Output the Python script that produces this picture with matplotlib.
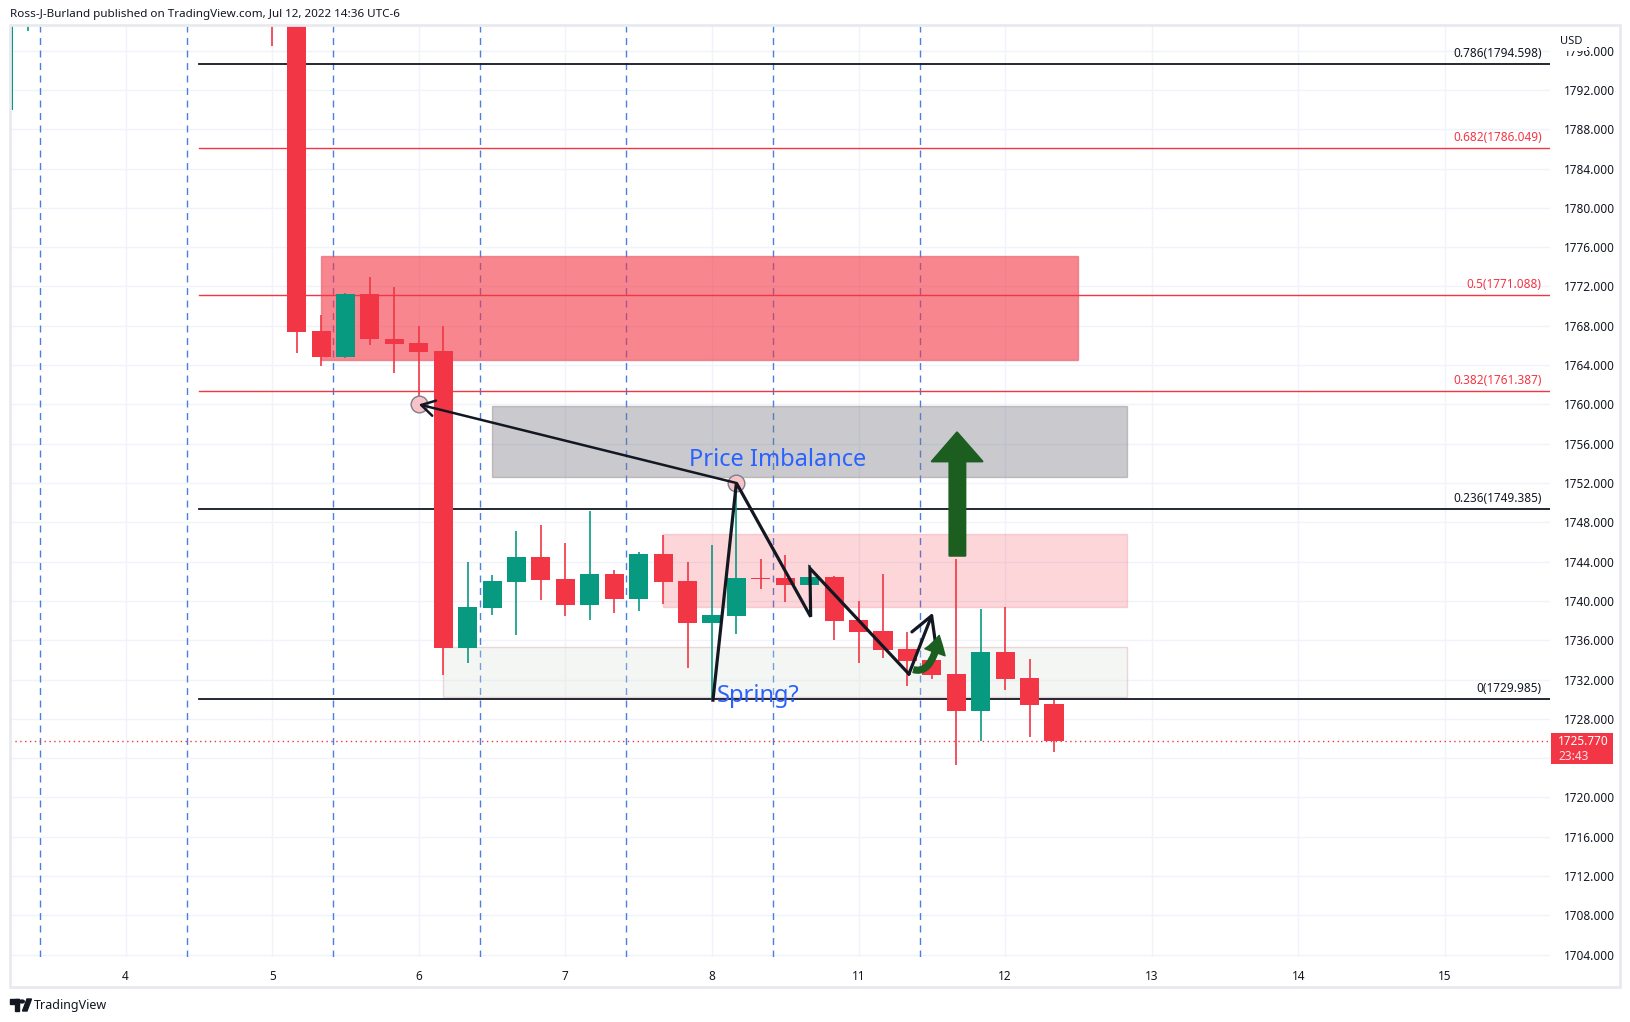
import matplotlib.pyplot as plt
import numpy as np
from matplotlib.patches import Rectangle, Polygon, FancyArrowPatch, Circle

plt.rcParams['font.family'] = ['Noto Sans', 'DejaVu Sans']

# 4h candles, x = bar number (day label "4" sits on bar 0, 6 bars per day)
bars = [-5, -4, 6, 7, 8, 9, 10, 11, 12, 13, 14, 15, 16, 17, 18, 19, 20, 21, 22,
        23, 24, 25, 26, 27, 28, 29, 30, 31, 32, 33, 34, 35, 36, 37, 38]
opens = [1790.0, 1800.0, 1806.0, 1803.5, 1767.5, 1764.85, 1771.24, 1766.66, 1766.2,
         1765.44, 1735.18, 1739.3, 1741.96, 1744.47, 1742.23, 1739.6, 1742.74, 1740.2,
         1744.77, 1742.03, 1737.8, 1738.5, 1742.3, 1742.33, 1741.66, 1742.43, 1738.06,
         1736.94, 1735.1, 1733.99, 1732.56, 1728.83, 1734.77, 1732.19, 1729.5]
highs = [1803.0, 1805.0, 1808.0, 1804.0, 1769.1, 1771.3, 1773.0, 1771.9, 1767.98,
         1767.98, 1744.0, 1742.6, 1747.1, 1747.73, 1745.93, 1749.15, 1743.1, 1745.0,
         1746.7, 1743.96, 1745.7, 1752.0, 1744.3, 1744.67, 1743.65, 1742.5, 1739.99,
         1742.74, 1736.87, 1735.68, 1744.3, 1739.17, 1739.41, 1734.1, 1729.96]
lows = [1790.0, 1798.0, 1796.5, 1765.2, 1763.9, 1764.7, 1766.05, 1763.2, 1760.0,
        1732.46, 1733.66, 1738.56, 1736.53, 1740.1, 1738.5, 1738.1, 1738.8, 1739.0,
        1739.68, 1733.2, 1729.9, 1736.6, 1741.24, 1739.9, 1741.6, 1736.03, 1733.7,
        1734.22, 1731.37, 1732.05, 1723.35, 1725.7, 1730.93, 1726.2, 1724.66]
closes = [1801.0, 1803.0, 1803.5, 1767.4, 1764.85, 1771.24, 1766.63, 1766.18, 1765.37,
          1735.18, 1739.41, 1742.03, 1744.47, 1742.17, 1739.6, 1742.74, 1740.2, 1744.77,
          1741.96, 1737.8, 1738.56, 1742.33, 1742.2, 1741.66, 1742.4, 1738.0, 1736.87,
          1735.0, 1733.88, 1732.46, 1728.83, 1734.77, 1732.05, 1729.4, 1725.77]

day_ticks = [0, 6, 12, 18, 24, 30, 36, 42, 48, 54]
day_labels = ['4', '5', '6', '7', '8', '11', '12', '13', '14', '15']
session_lines = [-3.5, 2.5, 8.5, 14.5, 20.5, 26.5, 32.5]
price_ticks = list(range(1704, 1797, 4))

fib_levels = [0.786, 0.682, 0.5, 0.382, 0.236, 0.0]
fib_prices = [1794.598, 1786.049, 1771.088, 1761.387, 1749.385, 1729.985]
fib_colors = ['#131722', '#F23645', '#F23645', '#F23645', '#131722', '#131722']
fib_start = 3

last_price = 1725.770
countdown = '23:43'

# zones: (x0, x1, y0, y1)
supply_zone = (8, 39, 1764.55, 1775.1)
imbalance_zone = (15, 41, 1752.6, 1759.8)
upper_zone = (22, 41, 1739.37, 1746.78)
lower_zone = (13, 41, 1730.27, 1735.35)

zigzag_x = [24.04, 25.0, 28.04, 28.01, 32.06]
zigzag_y = [1729.9, 1752.0, 1738.39, 1743.32, 1732.56]
zigzag_tip = (33.04, 1738.8)
pointer_from = (25.0, 1752.0)
pointer_to = (12.0, 1760.0)

TV_RED = '#F23645'
TV_GREEN = '#089981'
INK = '#131722'
DARK_GREEN = '#1B5E20'

W, H = 1630, 1022
fig = plt.figure(figsize=(W / 100, H / 100), dpi=100)
ax = fig.add_axes([10 / W, 1 - 957 / H, 1540 / W, 931 / H])
ax.set_xlim(-4.73, 58.3)
ax.set_ylim(1703.76, 1798.51)

for s in ax.spines.values():
    s.set_visible(False)
ax.set_xticks(day_ticks)
ax.set_xticklabels(day_labels)
ax.set_yticks(price_ticks)
# the 1724 label sits under the last-price box
ax.set_yticklabels(['' if v == 1724 else f'{v:.3f}' for v in price_ticks])
ax.yaxis.tick_right()
ax.tick_params(axis='both', length=0, labelsize=8.5, labelcolor=INK)
ax.tick_params(axis='y', pad=10)
ax.tick_params(axis='x', pad=9)
ax.grid(True, color='#F0F3FA', lw=1, zorder=0)
ax.set_axisbelow(True)

for xv in session_lines:
    ax.axvline(xv, color='#4A7FE0', lw=1, ls=(0, (5, 4)), zorder=1)


def zone(z, fc, ec):
    ax.add_patch(Rectangle((z[0], z[2]), z[1] - z[0], z[3] - z[2],
                           facecolor=fc, edgecolor=ec, lw=1, zorder=2))


zone(supply_zone, (0.949, 0.212, 0.271, 0.6), (0.9, 0.35, 0.4, 0.6))
zone(imbalance_zone, (0.47, 0.48, 0.525, 0.4), (0.6, 0.55, 0.57, 0.5))
zone(upper_zone, (0.949, 0.212, 0.271, 0.2), (0.9, 0.5, 0.55, 0.3))
zone(lower_zone, (0.86, 0.89, 0.86, 0.3), (0.85, 0.7, 0.72, 0.5))

# fib levels
for lvl, p, c in zip(fib_levels, fib_prices, fib_colors):
    ax.plot([fib_start, 58.3], [p, p], color=c, lw=1.3 if c == INK else 1, zorder=3)
    ax.annotate(f'{lvl:g}({p:.3f})', xy=(0.9946, p), xycoords=('axes fraction', 'data'),
                xytext=(0, 3), textcoords='offset points', ha='right', va='bottom',
                fontsize=8.5, color=c, zorder=6)

ax.axhline(last_price, color=TV_RED, lw=1, ls=(0, (1, 2.5)), zorder=3)

# candles
for x, o, h, l, c in zip(bars, opens, highs, lows, closes):
    col = TV_GREEN if c >= o else TV_RED
    ax.vlines(x, l, h, color=col, lw=1.2, zorder=4)
    ax.bar(x, max(abs(c - o), 0.12), bottom=min(o, c), width=0.78, color=col, zorder=4)

# drawings
ax.plot([pointer_from[0], pointer_to[0]], [pointer_from[1], pointer_to[1]], ls='none',
        marker='o', ms=12, mfc='#F8C3C8', mec='#7B7F8A', mew=1, zorder=5)
ax.add_patch(FancyArrowPatch(pointer_from, pointer_to, arrowstyle='->,head_length=0.6,head_width=0.35',
                             mutation_scale=16, color=INK, lw=1.8, zorder=6, shrinkA=0, shrinkB=0))
ax.plot(zigzag_x, zigzag_y, color=INK, lw=2.3, zorder=6, solid_joinstyle='miter')
ax.add_patch(FancyArrowPatch((zigzag_x[-1], zigzag_y[-1]), zigzag_tip,
                             arrowstyle='->,head_length=0.8,head_width=0.45', mutation_scale=20,
                             color=INK, lw=2.3, zorder=6, shrinkA=0, shrinkB=0))

big_arrow = [(34.37, 1744.6), (34.37, 1754.2), (35.07, 1754.2), (34.03, 1757.15),
             (33.0, 1754.2), (33.72, 1754.2), (33.72, 1744.6)]
ax.add_patch(Polygon(big_arrow, closed=True, facecolor=DARK_GREEN, edgecolor=DARK_GREEN,
                     lw=1.5, joinstyle='round', zorder=6))
ax.add_patch(FancyArrowPatch((32.26, 1733.0), (33.3, 1736.5),
                             connectionstyle='angle3,angleA=-15,angleB=80',
                             arrowstyle='simple,head_length=0.9,head_width=1.1,tail_width=0.3',
                             mutation_scale=14, color=DARK_GREEN, zorder=6, shrinkA=0, shrinkB=0))

ax.text(26.67, 1753.7, 'Price Imbalance', fontsize=17, color='#2962FF', ha='center',
        va='baseline', zorder=7)
ax.text(24.19, 1729.7, 'Spring?', fontsize=17, color='#2962FF', ha='left', va='baseline', zorder=7)


def px(x, y):
    return x / W, 1 - y / H


# frame, header, price label, footer
fig.patches.append(Rectangle(px(10, 987), 1610 / W, 962 / H, transform=fig.transFigure,
                             fill=False, edgecolor='#E8EAF0', lw=2))
fig.text(*px(10, 15), 'Ross-J-Burland published on TradingView.com, Jul 12, 2022 14:36 UTC-6',
         fontsize=8.4, color=INK, va='center')
fig.text(*px(1560, 41), 'USD', fontsize=8, color=INK, va='center',
         bbox=dict(facecolor='white', edgecolor='none', pad=3))
fig.patches.append(Rectangle(px(1551, 764), 62 / W, 31 / H, transform=fig.transFigure,
                             facecolor=TV_RED, edgecolor='none'))
fig.text(*px(1558, 741), f'{last_price:.3f}', fontsize=8.5, color='white', fontweight='bold', va='center')
fig.text(*px(1558, 756), countdown, fontsize=8.5, color='#FFE0E3', fontweight='bold', va='center')

# TradingView logo mark
fig.patches.append(Rectangle(px(10, 1003.5), 9 / W, 4.5 / H, transform=fig.transFigure, color=INK))
fig.patches.append(Rectangle(px(14.5, 1011), 4.5 / W, 12 / H, transform=fig.transFigure, color=INK))
fig.patches.append(Circle(px(22, 1001.5), 2.3 / W, transform=fig.transFigure, color=INK))
fig.patches.append(Polygon([px(22.5, 1011), px(27, 1011), px(31.5, 999), px(27, 999)],
                           closed=True, transform=fig.transFigure, color=INK))
fig.text(*px(34, 1005), 'TradingView', fontsize=9, color=INK, va='center')

fig.savefig('out.png', dpi=100, facecolor='white')
